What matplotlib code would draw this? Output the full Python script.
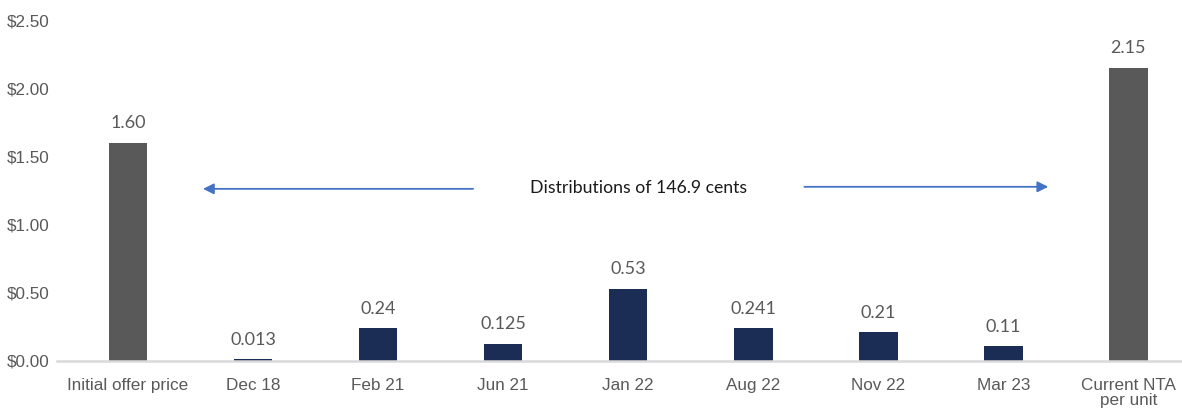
import matplotlib.pyplot as plt
import numpy as np

categories = ["Initial offer price", "Dec 18", "Feb 21", "Jun 21", "Jan 22",
              "Aug 22", "Nov 22", "Mar 23", "Current NTA\nper unit"]
values = [1.60, 0.013, 0.24, 0.125, 0.53, 0.241, 0.21, 0.11, 2.15]
value_labels = ["1.60", "0.013", "0.24", "0.125", "0.53", "0.241", "0.21", "0.11", "2.15"]
is_total = [True, False, False, False, False, False, False, False, True]
yticks = [0, 0.5, 1.0, 1.5, 2.0, 2.5]
note = "Distributions of 146.9 cents"

plt.rcParams['font.family'] = ['Liberation Sans', 'DejaVu Sans']

fig = plt.figure(figsize=(11.82, 4.09), dpi=100)
ax = fig.add_axes([0.048, 0.1174, 0.952, 0.8337])

x = np.arange(len(categories))
colors = ['#595959' if t else '#1b2d55' for t in is_total]
ax.bar(x, values, width=0.31, color=colors, linewidth=0, zorder=1)

for xi, v, lab in zip(x, values, value_labels):
    ax.annotate(lab, (xi, v), xytext=(0, 14), textcoords='offset points',
                ha='center', va='center', fontsize=13, color='#595959',
                family=['Lato', 'DejaVu Sans'])

ax.set_xlim(-0.57, 8.43)
ax.set_ylim(0, 2.5)
ax.set_yticks(yticks)
ax.set_yticklabels(['$%.2f' % t for t in yticks])
ax.set_xticks(x)
ax.set_xticklabels(categories, linespacing=1.05)
ax.tick_params(axis='both', length=0, labelsize=12.3, labelcolor='#595959')
ax.tick_params(axis='x', pad=12)
ax.tick_params(axis='y', pad=5)
for side in ['left', 'right', 'top']:
    ax.spines[side].set_visible(False)
ax.spines['bottom'].set_color('#d9d9d9')
ax.spines['bottom'].set_linewidth(1.8)
ax.spines['bottom'].set_zorder(3)

# arrows around the note
arrow_kw = dict(arrowstyle='-|>', color='#4472c4', lw=1.3, mutation_scale=16,
                shrinkA=0, shrinkB=0)
ax.annotate('', xy=(0.6, 1.262), xytext=(2.76, 1.262), arrowprops=arrow_kw)
ax.annotate('', xy=(7.36, 1.277), xytext=(5.41, 1.277), arrowprops=arrow_kw)
ax.text(4.08, 1.265, note, ha='center', va='center', fontsize=12.7,
        color='#1a1a1a', family=['Lato', 'DejaVu Sans'])

fig.savefig('out.png', dpi=100)
